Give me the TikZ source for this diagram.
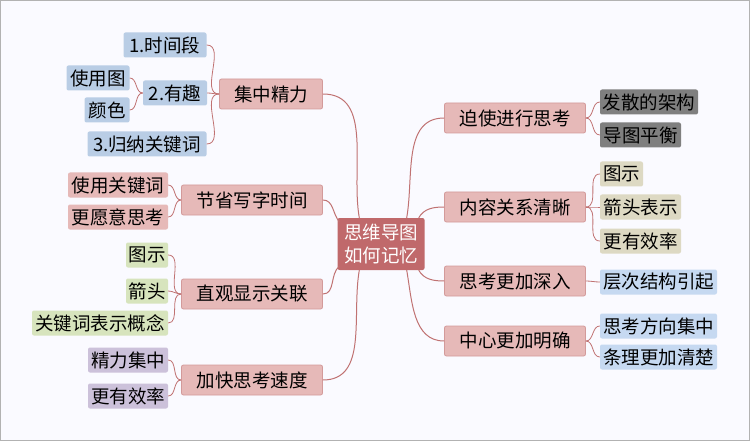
\documentclass[tikz,border=0pt]{standalone}
\usepackage{fontspec}
\setmainfont{Noto Sans CJK SC}
\usetikzlibrary{calc}
\definecolor{ln}{HTML}{C07272}
\definecolor{pk}{HTML}{E6B9B8}
\definecolor{pkd}{HTML}{D39A9A}
\definecolor{bl}{HTML}{B9CDE5}
\definecolor{gr}{HTML}{D7E4BD}
\definecolor{pu}{HTML}{CCC1DA}
\definecolor{gy}{HTML}{7F7F7F}
\definecolor{tn}{HTML}{DDD9C3}
\definecolor{lb}{HTML}{C6D9F1}
\definecolor{ctr}{HTML}{C0696B}
\tikzset{
 base/.style={rounded corners=2pt,inner sep=0pt,font=\fontsize{18.5}{20}\selectfont,text=black},
 main/.style={base,fill=pk,draw=pkd,line width=0.8pt,minimum width=141pt,minimum height=30pt},
 leaf/.style={base,minimum height=25pt},
 con/.style={draw=ln,line width=1pt},
}
\begin{document}
\begin{tikzpicture}[x=1pt,y=-1pt]
\fill[white!96!blue!50!white] (0,0) rectangle (750,441);
\draw[gray!60,line width=1pt] (0.5,0.5) rectangle (749.5,440.5);
\useasboundingbox (0,0) rectangle (750,441);
\node[base,fill=ctr,text=white,minimum width=87pt,minimum height=52pt,align=center,font=\fontsize{18.5}{23}\selectfont] (c) at (381,244) {思维导图\\如何记忆};
% main
\node[main,minimum width=103pt] (m1) at (271,94) {集中精力};
\node[main] (m2) at (252,200) {节省写字时间};
\node[main] (m3) at (252,294) {直观显示关联};
\node[main] (m4) at (252,380) {加快思考速度};
\node[main] (r1) at (515,118) {迫使进行思考};
\node[main] (r2) at (515,207) {内容关系清晰};
\node[main] (r3) at (515,281) {思考更加深入};
\node[main] (r4) at (515,341) {中心更加明确};
% leaves left
\node[leaf,fill=bl,minimum width=83pt] (a1) at (165,45) {1.时间段};
\node[leaf,fill=bl,minimum width=64pt] (a2) at (175,93) {2.有趣};
\node[leaf,fill=bl,minimum width=63pt] (a21) at (98,78) {使用图};
\node[leaf,fill=bl,minimum width=45pt] (a22) at (107,110) {颜色};
\node[leaf,fill=bl,minimum width=119pt] (a3) at (147,144) {3.归纳关键词};
\node[leaf,fill=pk,minimum width=100pt] (b1) at (118,185) {使用关键词};
\node[leaf,fill=pk,minimum width=100pt] (b2) at (118,217) {更愿意思考};
\node[leaf,fill=gr,minimum width=42pt] (d1) at (147,255) {图示};
\node[leaf,fill=gr,minimum width=42pt] (d2) at (147,291) {箭头};
\node[leaf,fill=gr,minimum width=136pt] (d3) at (100,323) {关键词表示概念};
\node[leaf,fill=pu,minimum width=80pt] (e1) at (128,360) {精力集中};
\node[leaf,fill=pu,minimum width=80pt] (e2) at (128,396) {更有效率};
% leaves right
\node[leaf,fill=gy,minimum width=98pt] (f1) at (649,102) {发散的架构};
\node[leaf,fill=gy,minimum width=81pt] (f2) at (640.5,135) {导图平衡};
\node[leaf,fill=tn,minimum width=43pt] (g1) at (621.5,174) {图示};
\node[leaf,fill=tn,minimum width=81pt] (g2) at (640.5,207) {箭头表示};
\node[leaf,fill=tn,minimum width=81pt] (g3) at (640.5,241) {更有效率};
\node[leaf,fill=lb,minimum width=117pt] (h1) at (658.5,282) {层次结构引起};
\node[leaf,fill=lb,minimum width=117pt] (i1) at (658.5,326) {思考方向集中};
\node[leaf,fill=lb,minimum width=117pt] (i2) at (658.5,357) {条理更加清楚};
% center connectors
\draw[con] ($(c.north west)+(22,0)$) to[out=100,in=0] (m1.east);
\draw[con] ($(c.north west)+(2,4)$) to[out=130,in=0] (m2.east);
\draw[con] ($(c.south west)+(2,-4)$) to[out=-140,in=0] (m3.east);
\draw[con] ($(c.south west)+(22,0)$) to[out=-100,in=0] (m4.east);
\draw[con] ($(c.north east)+(-18,0)$) to[out=80,in=180] (r1.west);
\draw[con] ($(c.north east)+(-6,0)$) to[out=60,in=180] (r2.west);
\draw[con] ($(c.south east)+(-6,0)$) to[out=-60,in=180] (r3.west);
\draw[con] ($(c.south east)+(-18,0)$) to[out=-80,in=180] (r4.west);
% leaf connectors
\foreach \p/\q in {m1/a1,m1/a2,m1/a3,a2/a21,a2/a22,m2/b1,m2/b2,m3/d1,m3/d2,m3/d3,m4/e1,m4/e2}
  \draw[con,line width=0.8pt] (\p.west) to[out=180,in=0] (\q.east);
\foreach \p/\q in {r1/f1,r1/f2,r2/g1,r2/g2,r2/g3,r3/h1,r4/i1,r4/i2}
  \draw[con,line width=0.8pt] (\p.east) to[out=0,in=180] (\q.west);
\end{tikzpicture}
\end{document}
